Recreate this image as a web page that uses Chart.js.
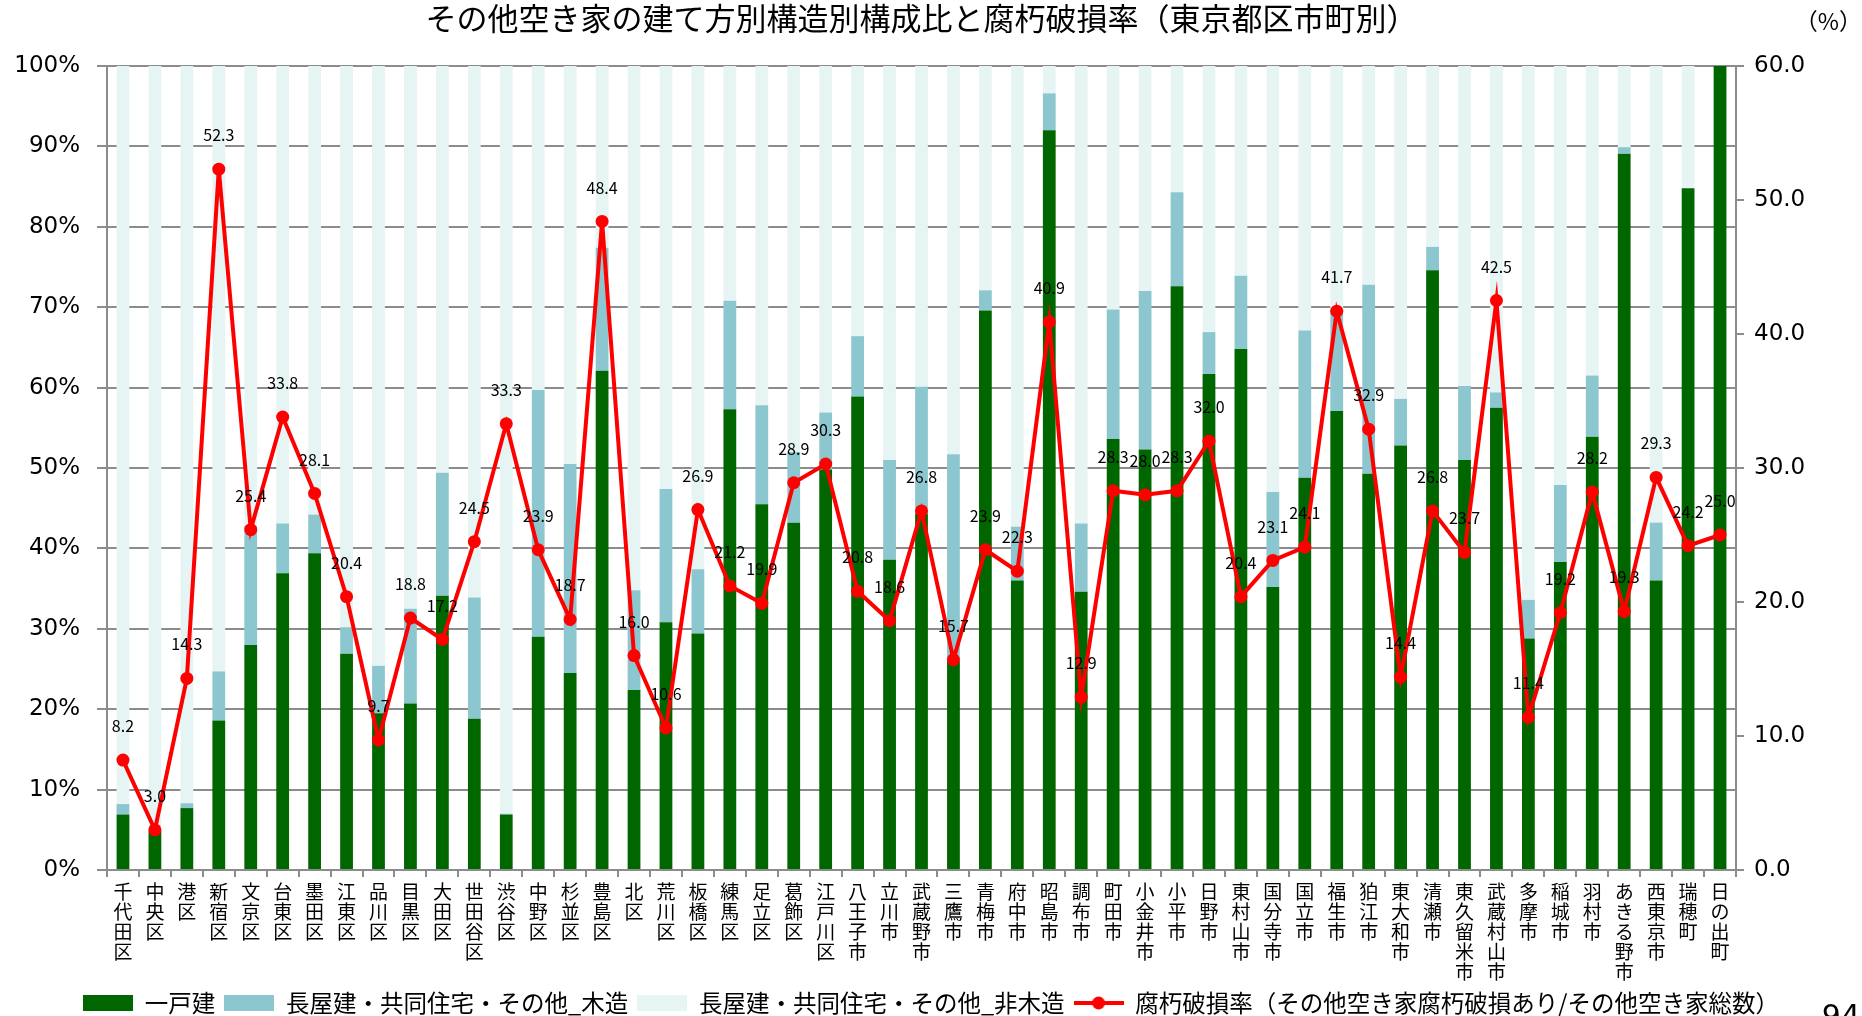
<!DOCTYPE html>
<html lang="ja">
<head>
<meta charset="utf-8">
<title>その他空き家の建て方別構造別構成比と腐朽破損率</title>
<script src="https://cdn.jsdelivr.net/npm/chart.js@4.4.1/dist/chart.umd.min.js"></script>
<style>
  html, body { margin: 0; padding: 0; background: #fff; }
  #wrap { width: 1862px; height: 1016px; }
</style>
</head>
<body>
<div id="wrap"><canvas id="chart" width="1862" height="1016"></canvas></div>
<script>
// 区市町別：一戸建／長屋建等（木造・非木造）の構成比(%) と 腐朽破損率(%)
const areas = [
  "千代田区", "中央区", "港区", "新宿区", "文京区", "台東区", "墨田区", "江東区", "品川区", "目黒区",
  "大田区", "世田谷区", "渋谷区", "中野区", "杉並区", "豊島区", "北区", "荒川区", "板橋区", "練馬区",
  "足立区", "葛飾区", "江戸川区", "八王子市", "立川市", "武蔵野市", "三鷹市", "青梅市", "府中市", "昭島市",
  "調布市", "町田市", "小金井市", "小平市", "日野市", "東村山市", "国分寺市", "国立市", "福生市", "狛江市",
  "東大和市", "清瀬市", "東久留米市", "武蔵村山市", "多摩市", "稲城市", "羽村市", "あきる野市", "西東京市", "瑞穂町",
  "日の出町",
];

const detached = [
  6.9, 4.8, 7.7, 18.6, 28.0, 36.9, 39.4, 26.9, 19.5, 20.7,
  34.1, 18.8, 6.9, 29.0, 24.5, 62.1, 22.4, 30.8, 29.4, 57.3,
  45.5, 43.2, 49.8, 58.9, 38.6, 44.3, 26.0, 69.6, 36.0, 92.0,
  34.6, 53.6, 52.3, 72.6, 61.7, 64.8, 35.2, 48.8, 57.1, 49.3,
  52.8, 74.6, 51.0, 57.5, 28.8, 38.3, 53.9, 89.1, 36.0, 84.8,
  100.0,
];

const rowWooden = [
  1.3, 0.3, 0.6, 6.1, 14.8, 6.2, 4.8, 3.3, 5.9, 11.8,
  15.3, 15.1, 0.1, 30.7, 26.0, 15.3, 12.4, 16.6, 8.0, 13.5,
  12.3, 8.8, 7.1, 7.5, 12.4, 15.8, 25.7, 2.5, 6.7, 4.6,
  8.5, 16.1, 19.7, 11.7, 5.2, 9.1, 11.8, 18.3, 12.4, 23.5,
  5.8, 2.9, 9.2, 1.9, 4.8, 9.6, 7.6, 0.8, 7.2, 0.0,
  0.0,
];

const rowNonWooden = [
  91.8, 94.9, 91.7, 75.3, 57.2, 56.9, 55.8, 69.8, 74.6, 67.5,
  50.6, 66.1, 93.0, 40.3, 49.5, 22.6, 65.2, 52.6, 62.6, 29.2,
  42.2, 48.0, 43.1, 33.6, 49.0, 39.9, 48.3, 27.9, 57.3, 3.4,
  56.9, 30.3, 28.0, 15.7, 33.1, 26.1, 53.0, 32.9, 30.5, 27.2,
  41.4, 22.5, 39.8, 40.6, 66.4, 52.1, 38.5, 10.1, 56.8, 15.2,
  0.0,
];

const decayRate = [
  8.2, 3.0, 14.3, 52.3, 25.4, 33.8, 28.1, 20.4, 9.7, 18.8,
  17.2, 24.5, 33.3, 23.9, 18.7, 48.4, 16.0, 10.6, 26.9, 21.2,
  19.9, 28.9, 30.3, 20.8, 18.6, 26.8, 15.7, 23.9, 22.3, 40.9,
  12.9, 28.3, 28.0, 28.3, 32.0, 20.4, 23.1, 24.1, 41.7, 32.9,
  14.4, 26.8, 23.7, 42.5, 11.4, 19.2, 28.2, 19.3, 29.3, 24.2,
  25.0,
];

const shareTicks = [0, 10, 20, 30, 40, 50, 60, 70, 80, 90, 100];
const rateTicks = [0, 10, 20, 30, 40, 50, 60];

const GREEN = "#006600";
const BLUE = "#8cc6cf";
const PALE = "#e6f4f4";
const RED = "#ff0000";
const GRID = "#8c8c8c";
const JP = '"Noto Sans CJK JP", "Noto Sans", sans-serif';
const NUM = '"DejaVu Sans", Verdana, sans-serif';

// 凡例用の小さなアイコン（横長の箱と、点付きの折れ線）
function boxIcon(color) {
  const c = document.createElement("canvas");
  c.width = 50; c.height = 16;
  const ctx = c.getContext("2d");
  ctx.fillStyle = color;
  ctx.fillRect(0, 0, 50, 16);
  return c;
}

function lineIcon(color) {
  const c = document.createElement("canvas");
  c.width = 50; c.height = 16;
  const ctx = c.getContext("2d");
  ctx.strokeStyle = color;
  ctx.lineWidth = 4;
  ctx.beginPath(); ctx.moveTo(0, 8); ctx.lineTo(50, 8); ctx.stroke();
  ctx.fillStyle = color;
  ctx.beginPath(); ctx.arc(25, 8, 6.5, 0, Math.PI * 2); ctx.fill();
  return c;
}

// 折れ線の各点の上に値を書く
const pointLabels = {
  id: "pointLabels",
  afterDatasetsDraw(chart) {
    const meta = chart.getDatasetMeta(3);
    const { ctx } = chart;
    ctx.save();
    ctx.font = `16px ${JP}`;
    ctx.fillStyle = "#000";
    ctx.textAlign = "center";
    ctx.textBaseline = "middle";
    meta.data.forEach((pt, i) => ctx.fillText(decayRate[i].toFixed(1), pt.x, pt.y - 34));
    ctx.restore();
  },
};

// 右軸の単位とページ番号
const extraText = {
  id: "extraText",
  afterDraw(chart) {
    const { ctx } = chart;
    ctx.save();
    ctx.fillStyle = "#000";
    ctx.font = `23px ${JP}`;
    ctx.textAlign = "right";
    ctx.textBaseline = "middle";
    ctx.fillText("（%）", 1862, 21);
    ctx.font = `30px ${NUM}`;
    ctx.textBaseline = "top";
    ctx.fillText("94", 1860, 1003);
    ctx.restore();
  },
};

const legendItems = [
  { text: "一戸建", icon: boxIcon(GREEN) },
  { text: "長屋建・共同住宅・その他_木造", icon: boxIcon(BLUE) },
  { text: "長屋建・共同住宅・その他_非木造", icon: boxIcon(PALE) },
  { text: "腐朽破損率（その他空き家腐朽破損あり/その他空き家総数）", icon: lineIcon(RED) },
];

new Chart(document.getElementById("chart"), {
  data: {
    labels: areas.map((a) => [...a]),
    datasets: [
      { type: "bar", label: legendItems[0].text, data: detached, backgroundColor: GREEN, stack: "s", yAxisID: "y", order: 1 },
      { type: "bar", label: legendItems[1].text, data: rowWooden, backgroundColor: BLUE, stack: "s", yAxisID: "y", order: 1 },
      { type: "bar", label: legendItems[2].text, data: rowNonWooden, backgroundColor: PALE, stack: "s", yAxisID: "y", order: 1 },
      {
        type: "line", label: legendItems[3].text, data: decayRate, yAxisID: "y1", order: 0,
        borderColor: RED, backgroundColor: RED, borderWidth: 4, tension: 0,
        pointRadius: 6.5, pointBorderWidth: 0, pointBackgroundColor: RED,
      },
    ],
  },
  options: {
    responsive: false,
    animation: false,
    // 凡例を下端ぎりぎりまで下げる（下の余白はマイナス）
    layout: { padding: { top: 0, left: 0, right: 0, bottom: -8.75 } },
    datasets: { bar: { categoryPercentage: 0.8, barPercentage: 0.5 } },
    plugins: {
      tooltip: { enabled: false },
      title: {
        display: true,
        fullSize: false,
        text: "その他空き家の建て方別構造別構成比と腐朽破損率（東京都区市町別）",
        color: "#000",
        font: { family: JP, size: 31, weight: "normal", lineHeight: 1.2 },
        padding: { top: 0, bottom: 28.8 },
      },
      legend: {
        position: "bottom",
        onClick: null,
        labels: {
          usePointStyle: true,
          pointStyleWidth: 50,
          padding: 9,
          color: "#000",
          font: { family: JP, size: 23.5 },
          generateLabels: () => legendItems.map((it, i) => ({
            text: it.text, datasetIndex: i, pointStyle: it.icon,
            fillStyle: "transparent", strokeStyle: "transparent", lineWidth: 0, fontColor: "#000",
          })),
        },
      },
    },
    scales: {
      x: {
        stacked: true,
        offset: true,
        grid: { drawOnChartArea: false, drawTicks: true, tickLength: 7, color: GRID, lineWidth: 2, offset: true },
        border: { color: GRID, width: 2 },
        ticks: {
          autoSkip: false, maxRotation: 0, minRotation: 0, padding: 5, color: "#000",
          font: { family: JP, size: 19, lineHeight: 1.05 },
        },
        afterFit: (s) => { s.height = 112.25; },
      },
      y: {
        stacked: true,
        position: "left",
        min: 0, max: 100,
        afterBuildTicks: (s) => { s.ticks = shareTicks.map((v) => ({ value: v })); },
        grid: { color: GRID, lineWidth: 2, tickLength: 10 },
        border: { color: GRID, width: 2 },
        ticks: { padding: 17, color: "#000", font: { family: NUM, size: 23 }, callback: (v) => v + "%" },
        afterFit: (s) => { s.width = 107; },
      },
      y1: {
        position: "right",
        min: 0, max: 60,
        afterBuildTicks: (s) => { s.ticks = rateTicks.map((v) => ({ value: v })); },
        grid: { drawOnChartArea: false, color: GRID, lineWidth: 2, tickLength: 8 },
        border: { color: GRID, width: 2 },
        ticks: { padding: 10, color: "#000", font: { family: NUM, size: 23 }, callback: (v) => v.toFixed(1) },
        afterFit: (s) => { s.width = 126; },
      },
    },
  },
  plugins: [pointLabels, extraText],
});
</script>
</body>
</html>
